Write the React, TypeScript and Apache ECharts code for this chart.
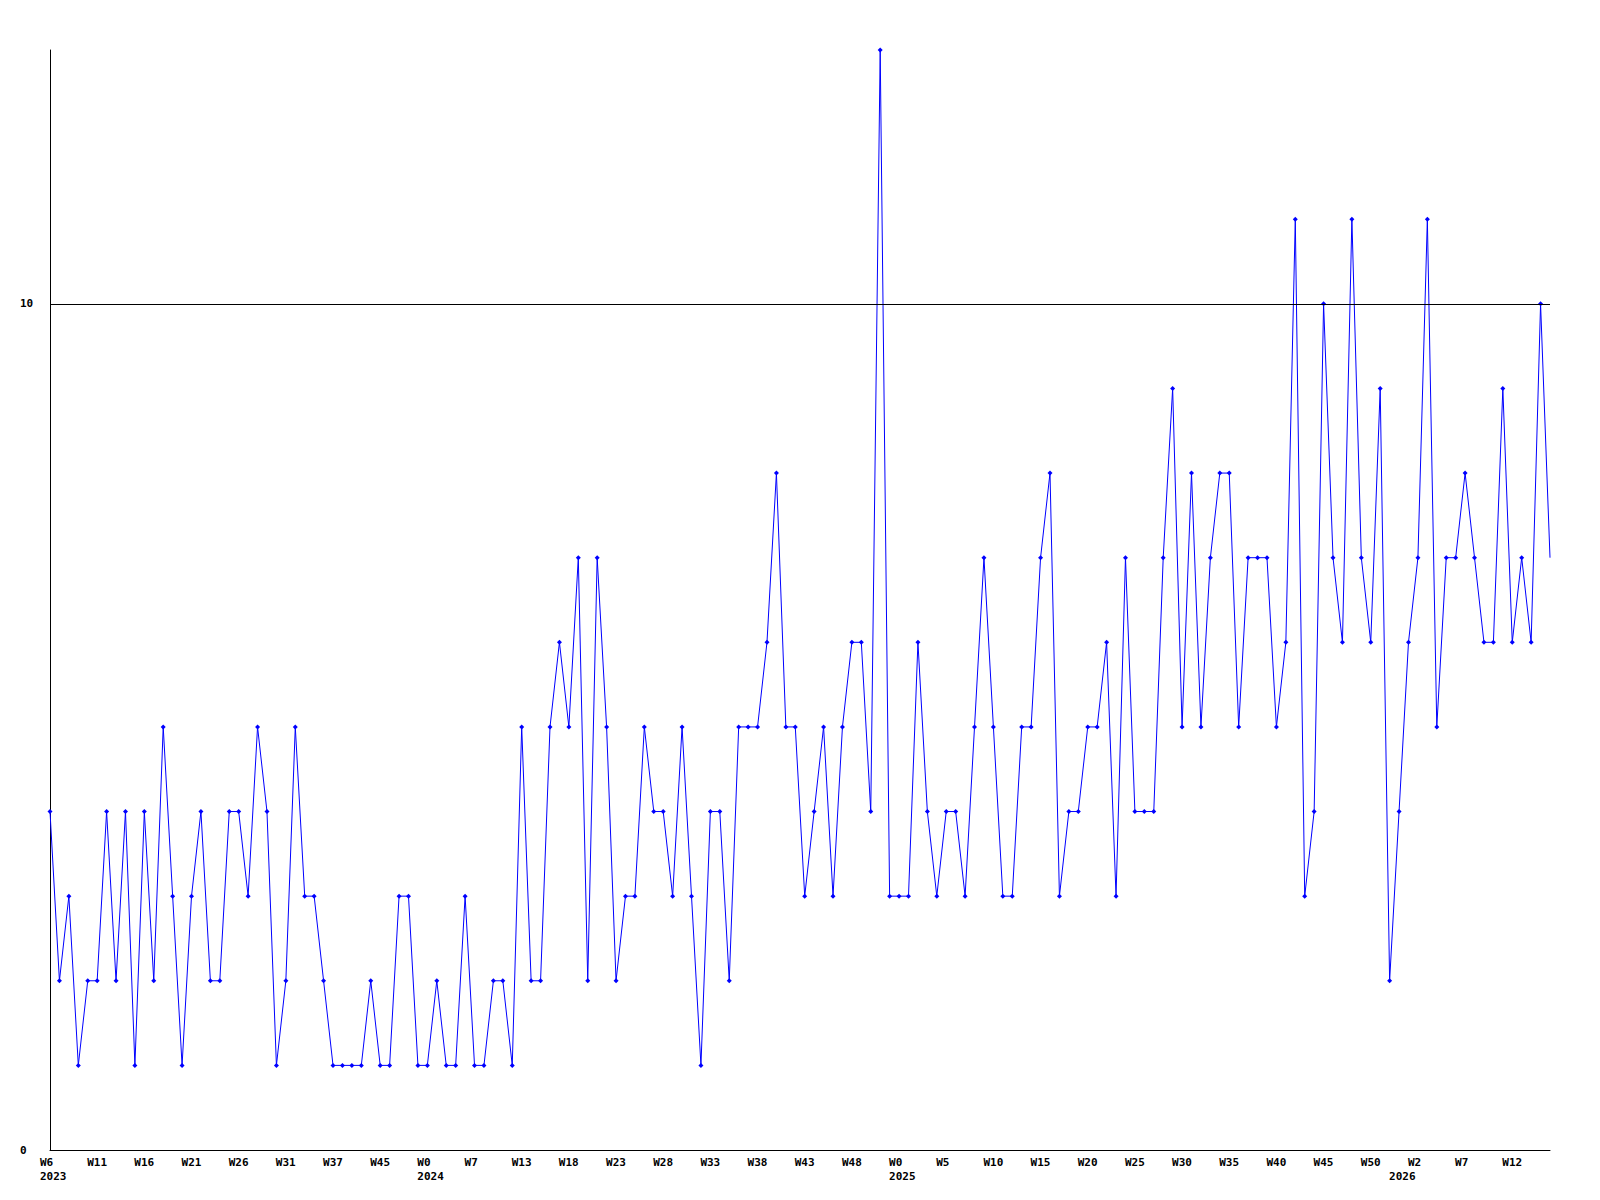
import React, { useEffect, useRef } from "react";
import * as echarts from "echarts";

const categories: string[] = [
  "2023-W6", "2023-W7", "2023-W8", "2023-W9", "2023-W10",
  "2023-W11", "2023-W12", "2023-W13", "2023-W14", "2023-W15",
  "2023-W16", "2023-W17", "2023-W18", "2023-W19", "2023-W20",
  "2023-W21", "2023-W22", "2023-W23", "2023-W24", "2023-W25",
  "2023-W26", "2023-W27", "2023-W28", "2023-W29", "2023-W30",
  "2023-W31", "2023-W32", "2023-W33", "2023-W34", "2023-W36",
  "2023-W37", "2023-W38", "2023-W40", "2023-W42", "2023-W44",
  "2023-W45", "2023-W46", "2023-W48", "2023-W50", "2023-W52",
  "2024-W0", "2024-W1", "2024-W3", "2024-W4", "2024-W6",
  "2024-W7", "2024-W8", "2024-W9", "2024-W10", "2024-W12",
  "2024-W13", "2024-W14", "2024-W15", "2024-W16", "2024-W17",
  "2024-W18", "2024-W19", "2024-W20", "2024-W21", "2024-W22",
  "2024-W23", "2024-W24", "2024-W25", "2024-W26", "2024-W27",
  "2024-W28", "2024-W29", "2024-W30", "2024-W31", "2024-W32",
  "2024-W33", "2024-W34", "2024-W35", "2024-W36", "2024-W37",
  "2024-W38", "2024-W39", "2024-W40", "2024-W41", "2024-W42",
  "2024-W43", "2024-W44", "2024-W45", "2024-W46", "2024-W47",
  "2024-W48", "2024-W49", "2024-W50", "2024-W51", "2024-W52",
  "2025-W0", "2025-W1", "2025-W2", "2025-W3", "2025-W4",
  "2025-W5", "2025-W6", "2025-W7", "2025-W8", "2025-W9",
  "2025-W10", "2025-W11", "2025-W12", "2025-W13", "2025-W14",
  "2025-W15", "2025-W16", "2025-W17", "2025-W18", "2025-W19",
  "2025-W20", "2025-W21", "2025-W22", "2025-W23", "2025-W24",
  "2025-W25", "2025-W26", "2025-W27", "2025-W28", "2025-W29",
  "2025-W30", "2025-W31", "2025-W32", "2025-W33", "2025-W34",
  "2025-W35", "2025-W36", "2025-W37", "2025-W38", "2025-W39",
  "2025-W40", "2025-W41", "2025-W42", "2025-W43", "2025-W44",
  "2025-W45", "2025-W46", "2025-W47", "2025-W48", "2025-W49",
  "2025-W50", "2025-W51", "2025-W52",
  "2026-W0", "2026-W1", "2026-W2", "2026-W3", "2026-W4",
  "2026-W5", "2026-W6", "2026-W7", "2026-W8", "2026-W9",
  "2026-W10", "2026-W11", "2026-W12", "2026-W13", "2026-W14",
  "2026-W15", "2026-W16",
];

const values: number[] = [
  4, 2, 3, 1, 2, 2, 4, 2, 4, 1,
  4, 2, 5, 3, 1, 3, 4, 2, 2, 4,
  4, 3, 5, 4, 1, 2, 5, 3, 3, 2,
  1, 1, 1, 1, 2, 1, 1, 3, 3, 1,
  1, 2, 1, 1, 3, 1, 1, 2, 2, 1,
  5, 2, 2, 5, 6, 5, 7, 2, 7, 5,
  2, 3, 3, 5, 4, 4, 3, 5, 3, 1,
  4, 4, 2, 5, 5, 5, 6, 8, 5, 5,
  3, 4, 5, 3, 5, 6, 6, 4, 13, 3,
  3, 3, 6, 4, 3, 4, 4, 3, 5, 7,
  5, 3, 3, 5, 5, 7, 8, 3, 4, 4,
  5, 5, 6, 3, 7, 4, 4, 4, 7, 9,
  5, 8, 5, 7, 8, 8, 5, 7, 7, 7,
  5, 6, 11, 3, 4, 10, 7, 6, 11, 7,
  6, 9, 2, 4, 6, 7, 11, 5, 7, 7,
  8, 7, 6, 6, 9, 6, 7, 6, 10, 7,
];

const yTicks = { min: 0, max: 13, interval: 10 };
const referenceLine = 10;
const labelEvery = 5;

const FONT = "DejaVu Sans Mono";

const yearOf = (c: string) => c.split("-")[0];
const weekOf = (c: string) => c.split("-")[1];
const isYearStart = (i: number) =>
  i === 0 || yearOf(categories[i - 1]) !== yearOf(categories[i]);

export default function App() {
  const ref = useRef<HTMLDivElement>(null);

  useEffect(() => {
    document.body.style.margin = "0";
    if (!ref.current) return;
    const chart = echarts.init(ref.current, null, { renderer: "svg" });
    const last = values.length - 1;
    chart.setOption({
      animation: false,
      backgroundColor: "#ffffff",
      grid: [
        { left: 50, right: 50, top: 50, bottom: 50, containLabel: false },
        { left: 40, right: 60, top: 50, bottom: 50, containLabel: false },
      ],
      xAxis: [
        {
          type: "category",
          gridIndex: 0,
          data: categories,
          boundaryGap: false,
          axisLine: { show: true, lineStyle: { color: "#000", width: 1 } },
          axisTick: { show: false },
          axisLabel: { show: false },
          splitLine: { show: false },
        },
        {
          type: "category",
          gridIndex: 1,
          data: categories,
          boundaryGap: false,
          axisLine: { show: false },
          axisTick: { show: false },
          splitLine: { show: false },
          axisLabel: {
            show: true,
            align: "left",
            verticalAlign: "top",
            margin: 5,
            color: "#000",
            fontFamily: FONT,
            fontWeight: "bold",
            fontSize: 11,
            lineHeight: 14.5,
            interval: (index: number) => index % labelEvery === 0 || isYearStart(index),
            formatter: (value: string, index: number) => {
              const wk = index % labelEvery === 0 ? weekOf(value) : "";
              const yr = isYearStart(index) ? "\n" + yearOf(value) : "";
              return wk + yr;
            },
          },
        },
      ],
      yAxis: [
        {
          type: "value",
          gridIndex: 0,
          min: yTicks.min,
          max: yTicks.max,
          interval: yTicks.interval,
          axisLine: { show: true, lineStyle: { color: "#000", width: 1 } },
          axisTick: { show: false },
          splitLine: { show: false },
          axisLabel: {
            show: true,
            align: "left",
            margin: 30,
            showMaxLabel: false,
            color: "#000",
            fontFamily: FONT,
            fontWeight: "bold",
            fontSize: 11,
            formatter: (v: number) => (v === yTicks.max ? "" : String(v)),
          },
        },
        { type: "value", gridIndex: 1, show: false },
      ],
      series: [
        {
          type: "line",
          xAxisIndex: 0,
          yAxisIndex: 0,
          data: values,
          symbol: (_v: any, params: any) => (params.dataIndex === last ? "none" : "diamond"),
          symbolSize: 5,
          showAllSymbol: true,
          lineStyle: { color: "#0000ff", width: 1 },
          itemStyle: { color: "#0000ff" },
          markLine: {
            silent: true,
            symbol: ["none", "none"],
            label: { show: false },
            lineStyle: { color: "#000", width: 1, type: "solid" },
            data: [{ yAxis: referenceLine }],
          },
          z: 3,
        },
      ],
    });
    return () => chart.dispose();
  }, []);

  return <div ref={ref} style={{ width: 1600, height: 1200 }} />;
}
